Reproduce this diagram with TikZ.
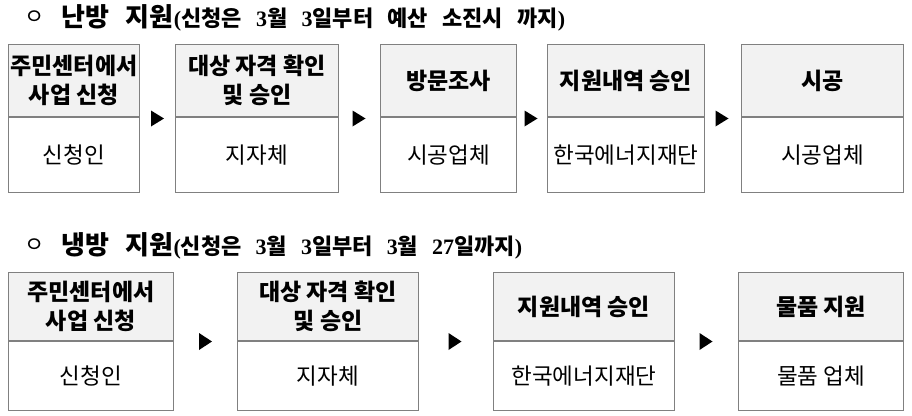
\documentclass[tikz,border=0pt]{standalone}
\usepackage{fontspec}
\setmainfont{Noto Sans CJK KR}
\newfontfamily\dg{Liberation Serif}
\definecolor{bd}{HTML}{808080}
\definecolor{hd}{HTML}{F2F2F2}
\begin{document}
\begin{tikzpicture}[x=1pt,y=-1pt,
  hdr/.style={draw=bd, fill=hd, line width=0.9pt, anchor=north west, align=center, inner sep=0pt,
    font=\bfseries\fontsize{23pt}{29pt}\selectfont},
  bdy/.style={draw=bd, line width=0.9pt, anchor=north, inner sep=0pt,
    font=\fontsize{22.5pt}{26pt}\selectfont},
  bul/.style={inner sep=0pt, font=\fontsize{22pt}{24pt}\selectfont},
  ttl/.style={inner sep=0pt, anchor=base west},
  tri/.style={fill=black}]
\useasboundingbox (0,0) rectangle (912,415);
% ---------- title 1
\node[bul] (bu1) at (35,18) {ㅇ};
\node[ttl] (ti1) at (61,26) {\makebox[504pt][s]{{\bfseries\fontsize{26pt}{28pt}\selectfont 난방 지원}{\bfseries\fontsize{22pt}{24pt}\selectfont {\dg(}신청은 {\dg 3}월 {\dg 3}일부터 예산 소진시 까지{\dg)}}}};
% ---------- row 1
\node[hdr, minimum width=131pt, minimum height=72pt] (h1) at (8,44) {주민센터에서\\사업 신청};
\node[bdy, minimum width=131pt, minimum height=75pt] (b1) at (h1.south) {신청인};
\node[hdr, minimum width=163pt, minimum height=72pt] (h2) at (175,44) {대상 자격 확인\\및 승인};
\node[bdy, minimum width=163pt, minimum height=75pt] (b2) at (h2.south) {지자체};
\node[hdr, minimum width=136pt, minimum height=72pt] (h3) at (380,44) {방문조사};
\node[bdy, minimum width=136pt, minimum height=75pt] (b3) at (h3.south) {시공업체};
\node[hdr, minimum width=157pt, minimum height=72pt] (h4) at (547,44) {지원내역 승인};
\node[bdy, minimum width=157pt, minimum height=75pt] (b4) at (h4.south) {한국에너지재단};
\node[hdr, minimum width=162pt, minimum height=72pt] (h5) at (741,44) {시공};
\node[bdy, minimum width=162pt, minimum height=75pt] (b5) at (h5.south) {시공업체};
\foreach \n/\x in {a1/157.5,a2/359,a3/531,a4/722}{
  \coordinate (\n) at (\x,118.5);
  \fill[tri] (\n) ++(-6.5,-8) -- ++(13,8) -- ++(-13,8) -- cycle;
}
% ---------- title 2
\node[bul] (bu2) at (35,246) {ㅇ};
\node[ttl] (ti2) at (61,254) {\makebox[461pt][s]{{\bfseries\fontsize{26pt}{28pt}\selectfont 냉방 지원}{\bfseries\fontsize{22pt}{24pt}\selectfont {\dg(}신청은 {\dg 3}월 {\dg 3}일부터 {\dg 3}월 {\dg 27}일까지{\dg)}}}};
% ---------- row 2
\node[hdr, minimum width=165pt, minimum height=68pt] (k1) at (8,272) {주민센터에서\\사업 신청};
\node[bdy, minimum width=165pt, minimum height=69pt] (c1) at (k1.south) {신청인};
\node[hdr, minimum width=181pt, minimum height=68pt] (k2) at (237,272) {대상 자격 확인\\및 승인};
\node[bdy, minimum width=181pt, minimum height=69pt] (c2) at (k2.south) {지자체};
\node[hdr, minimum width=181pt, minimum height=68pt] (k3) at (493,272) {지원내역 승인};
\node[bdy, minimum width=181pt, minimum height=69pt] (c3) at (k3.south) {한국에너지재단};
\node[hdr, minimum width=165pt, minimum height=68pt] (k4) at (738,272) {물품 지원};
\node[bdy, minimum width=165pt, minimum height=69pt] (c4) at (k4.south) {물품 업체};
\foreach \n/\x in {d1/205.5,d2/455,d3/706}{
  \coordinate (\n) at (\x,341.5);
  \fill[tri] (\n) ++(-6.5,-8.5) -- ++(13,8.5) -- ++(-13,8.5) -- cycle;
}
\end{tikzpicture}
\end{document}
